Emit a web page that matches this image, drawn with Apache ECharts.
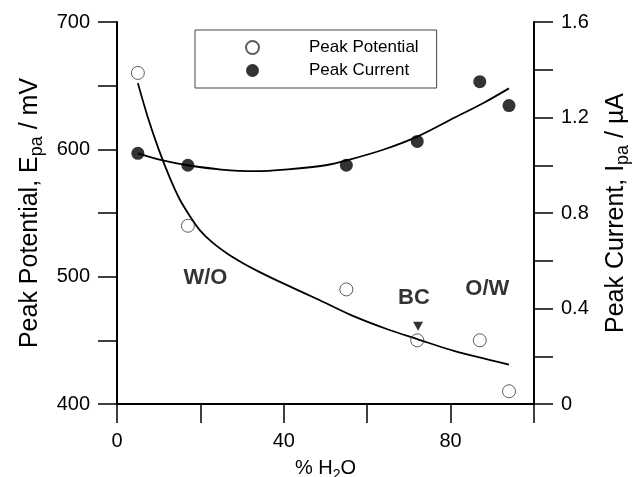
<!DOCTYPE html>
<html>
<head>
<meta charset="utf-8">
<script src="https://cdn.jsdelivr.net/npm/echarts@6/dist/echarts.min.js"></script>
<style>
html,body{margin:0;padding:0;background:#fff;}
#chart{width:636px;height:477px;}
</style>
</head>
<body>
<div id="chart"></div>
<script>
// Measured data
var waterPct = [5, 17, 55, 72, 87, 94];
var peakPotential = [660, 540, 490, 450, 450, 410];      // mV (left axis)
var peakCurrent = [1.05, 1.00, 1.00, 1.10, 1.35, 1.25];  // uA (right axis)

// Fitted curves
var potFitX = [5, 7.5, 10, 12.5, 15, 17.5, 20, 23, 26.5, 30, 34, 40, 48, 56, 65, 72, 81, 94];
var potFitY = [652, 624, 600, 579, 561, 547.5, 536, 526.5, 518, 511, 504, 494.5, 482.5, 470, 458.5, 451, 441.5, 431];
var curFitX = [5, 11, 17, 25, 33, 41, 50, 56, 64, 72, 81, 88, 94];
var curFitY = [1.05, 1.02, 1.00, 0.982, 0.975, 0.983, 1.00, 1.025, 1.066, 1.12, 1.20, 1.262, 1.322];

// Region annotations (x, potential)
var annoX = [21.2, 71.2, 88.8];
var annoY = [499, 483, 490];
var annoText = ['W/O', 'BC', 'O/W'];
// Breakpoint marker
var bcMarkX = [72.2];
var bcMarkY = [461];

var xTickLabels = ['0', '40', '80'];
var leftTickLabels = ['400', '500', '600', '700'];
var rightTickLabels = ['0', '0.4', '0.8', '1.2', '1.6'];

function zip(a, b) { return a.map(function (v, i) { return [v, b[i]]; }); }

var FONT = 'Liberation Sans, Arial, Helvetica, sans-serif';
var chart = echarts.init(document.getElementById('chart'));
var axisLine = { show: true, onZero: false, lineStyle: { color: '#000', width: 2 } };
var tick = { show: true, inside: false, length: 19, lineStyle: { color: '#000', width: 1.5 } };

chart.setOption({
  animation: false,
  backgroundColor: '#fff',
  textStyle: { fontFamily: FONT, color: '#000' },
  grid: { left: 117, right: 102, top: 22, bottom: 73, containLabel: false, outerBoundsMode: 'none' },
  legend: {
    left: 195, top: 30,
    orient: 'vertical',
    padding: [9, 18, 9, 50],
    itemGap: 6,
    itemWidth: 13, itemHeight: 13,
    borderColor: '#444', borderWidth: 1,
    data: ['Peak Potential', 'Peak Current'],
    textStyle: { fontFamily: FONT, fontSize: 17, color: '#000', padding: [0, 0, 0, 45] }
  },
  xAxis: {
    type: 'value', min: 0, max: 100, interval: 20,
    name: '% H{sub|2}O', nameLocation: 'middle', nameGap: 44,
    nameTextStyle: {
      fontFamily: FONT, fontSize: 20, color: '#000', lineHeight: 26, verticalAlign: 'middle',
      rich: { sub: { fontFamily: FONT, fontSize: 14, verticalAlign: 'bottom', lineHeight: 26 } }
    },
    axisLine: axisLine, axisTick: tick, splitLine: { show: false },
    axisLabel: {
      margin: 27, fontSize: 20, color: '#000', fontFamily: FONT,
      formatter: function (v) { var s = String(v); return xTickLabels.indexOf(s) >= 0 ? s : ''; }
    }
  },
  yAxis: [{
    type: 'value', min: 400, max: 700, interval: 50, position: 'left',
    name: 'Peak Potential, E{sub|pa} / mV', nameLocation: 'middle', nameGap: 80,
    nameTextStyle: {
      fontFamily: FONT, fontSize: 25, color: '#000', lineHeight: 32, verticalAlign: 'middle',
      rich: { sub: { fontFamily: FONT, fontSize: 18, verticalAlign: 'bottom', lineHeight: 32 } }
    },
    axisLine: axisLine, axisTick: tick, splitLine: { show: false },
    axisLabel: {
      margin: 27, fontSize: 20, color: '#000', fontFamily: FONT,
      formatter: function (v) { var s = String(v); return leftTickLabels.indexOf(s) >= 0 ? s : ''; }
    }
  }, {
    type: 'value', min: 0, max: 1.6, interval: 0.2, position: 'right',
    name: 'Peak Current, I{sub|pa} / \u00b5A', nameLocation: 'middle', nameGap: 77,
    nameTextStyle: {
      fontFamily: FONT, fontSize: 25, color: '#000', lineHeight: 32, verticalAlign: 'middle',
      rich: { sub: { fontFamily: FONT, fontSize: 18, verticalAlign: 'bottom', lineHeight: 32 } }
    },
    axisLine: axisLine, axisTick: tick, splitLine: { show: false },
    axisLabel: {
      margin: 27, fontSize: 20, color: '#000', fontFamily: FONT,
      formatter: function (v) { var s = String(Math.round(v * 10) / 10); return rightTickLabels.indexOf(s) >= 0 ? s : ''; }
    }
  }],
  series: [{
    name: 'Potential fit', type: 'line', yAxisIndex: 0, smooth: 0.3, symbol: 'none',
    lineStyle: { color: '#000', width: 1.8 }, data: zip(potFitX, potFitY), z: 2, silent: true
  }, {
    name: 'Current fit', type: 'line', yAxisIndex: 1, smooth: 0.3, symbol: 'none',
    lineStyle: { color: '#000', width: 1.8 }, data: zip(curFitX, curFitY), z: 2, silent: true
  }, {
    name: 'Peak Potential', type: 'scatter', yAxisIndex: 0, symbol: 'circle', symbolSize: 13,
    itemStyle: { color: 'rgba(255,255,255,0)', borderColor: '#333', borderWidth: 1 },
    data: zip(waterPct, peakPotential), z: 3
  }, {
    name: 'Peak Current', type: 'scatter', yAxisIndex: 1, symbol: 'circle', symbolSize: 13,
    itemStyle: { color: '#000' }, data: zip(waterPct, peakCurrent), z: 3
  }, {
    name: 'BC marker', type: 'scatter', yAxisIndex: 0, symbol: 'triangle', symbolRotate: 180,
    symbolSize: [10, 9], itemStyle: { color: '#000' }, data: zip(bcMarkX, bcMarkY), z: 4
  }, {
    name: 'Regions', type: 'scatter', yAxisIndex: 0, symbolSize: 0,
    data: annoX.map(function (x, i) { return { value: [x, annoY[i]], name: annoText[i] }; }),
    label: {
      show: true, position: 'inside', formatter: '{b}',
      fontFamily: FONT, fontSize: 22, fontWeight: 'bold', color: '#000'
    }, z: 5
  }]
});
</script>
</body>
</html>
